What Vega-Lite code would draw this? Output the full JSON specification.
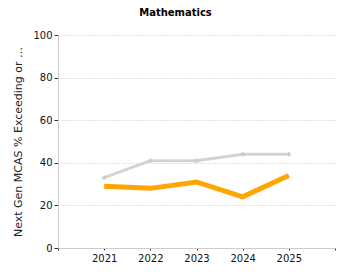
{
  "$schema": "https://vega.github.io/schema/vega-lite/v6.json",
  "width": 277,
  "height": 213,
  "autosize": "none",
  "padding": {"left": 58, "top": 35, "right": 15, "bottom": 32},
  "background": "white",
  "title": {"text": "Mathematics", "font": "DejaVu Sans", "fontSize": 10, "fontWeight": "bold", "color": "#000000", "offset": 12, "dx": -21},
  "data": {"values": [
    {"year": 2021, "series": "State", "value": 33},
    {"year": 2022, "series": "State", "value": 41},
    {"year": 2023, "series": "State", "value": 41},
    {"year": 2024, "series": "State", "value": 44},
    {"year": 2025, "series": "State", "value": 44},
    {"year": 2021, "series": "District", "value": 29},
    {"year": 2022, "series": "District", "value": 28},
    {"year": 2023, "series": "District", "value": 31},
    {"year": 2024, "series": "District", "value": 24},
    {"year": 2025, "series": "District", "value": 34}
  ]},
  "config": {
    "view": {"stroke": null},
    "axis": {"labelFont": "DejaVu Sans", "titleFont": "DejaVu Sans", "labelFontSize": 10, "labelColor": "#111111", "domainColor": "#cccccc", "tickColor": "#333333", "tickSize": 3}
  },
  "encoding": {
    "x": {"field": "year", "type": "quantitative", "scale": {"domain": [2020, 2026], "nice": false, "zero": false},
      "axis": {"title": null, "values": [2020, 2021, 2022, 2023, 2024, 2025, 2026], "labelExpr": "datum.value >= 2021 && datum.value <= 2025 ? datum.value : ''", "grid": false, "labelPadding": 3, "tickSize": 2}},
    "y": {"field": "value", "type": "quantitative", "scale": {"domain": [0, 100], "nice": false},
      "axis": {"title": "Next Gen MCAS % Exceeding or Meeting Expectations", "titleLimit": 194, "titleFontSize": 11, "titleFontWeight": "normal", "titleColor": "#222222", "titlePadding": 9, "values": [0, 20, 40, 60, 80, 100], "tickSize": 4, "labelPadding": 2, "grid": true, "gridDash": [1, 2], "gridColor": "#c4c4c4", "gridWidth": 1}}
  },
  "layer": [
    {
      "transform": [{"filter": "datum.series == 'State'"}],
      "mark": {"type": "line", "color": "#d3d3d3", "strokeWidth": 3, "point": {"shape": "cross", "size": 20, "color": "#cccccc", "filled": true}}
    },
    {
      "transform": [{"filter": "datum.series == 'District'"}],
      "mark": {"type": "line", "color": "#ffa500", "strokeWidth": 5}
    }
  ]
}
